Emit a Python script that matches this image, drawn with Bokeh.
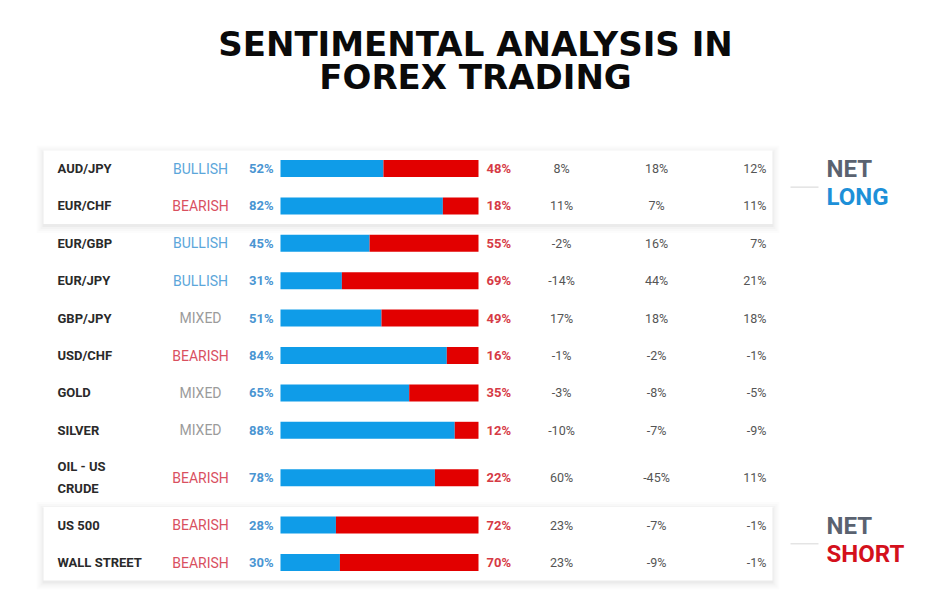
from bokeh.plotting import figure
from bokeh.models import Range1d, ColumnDataSource
from bokeh.core.properties import value
from bokeh.embed import file_html
from bokeh.resources import INLINE

# ---- data ----
names = ["AUD/JPY", "EUR/CHF", "EUR/GBP", "EUR/JPY", "GBP/JPY", "USD/CHF",
         "GOLD", "SILVER", "OIL - US\nCRUDE", "US 500", "WALL STREET"]
sentiment = ["BULLISH", "BEARISH", "BULLISH", "BULLISH", "MIXED", "BEARISH",
             "MIXED", "MIXED", "BEARISH", "BEARISH", "BEARISH"]
long_pct = [52, 82, 45, 31, 51, 84, 65, 88, 78, 28, 30]
short_pct = [48, 18, 55, 69, 49, 16, 35, 12, 22, 72, 70]
change_a = ["8%", "11%", "-2%", "-14%", "17%", "-1%", "-3%", "-10%", "60%", "23%", "23%"]
change_b = ["18%", "7%", "16%", "44%", "18%", "-2%", "-8%", "-7%", "-45%", "-7%", "-9%"]
change_c = ["12%", "11%", "7%", "21%", "18%", "-1%", "-5%", "-9%", "11%", "-1%", "-1%"]
title_lines = ["SENTIMENTAL ANALYSIS IN", "FOREX TRADING"]

# ---- layout ----
W, H = 950, 600
p = figure(width=W, height=H, x_range=Range1d(0, W), y_range=Range1d(H, 0),
           output_backend="svg", toolbar_location=None, min_border=0)
p.axis.visible = False
p.grid.visible = False
p.outline_line_color = None
p.background_fill_color = "white"
p.border_fill_color = "white"

FONT = value("Roboto")

# row centres
ys = []
y = 168.0
for i, n in enumerate(names):
    extra = 10 if "\n" in n else 0
    ys.append(y + extra)
    y += 37.4 + 2 * extra

# boxes (net long: rows 0-1, net short: rows 9-10)
def box(r0, r1):
    top = ys[r0] - 18
    bot = ys[r1] + 18
    for k, a in [(7, 0.01), (5, 0.015), (3, 0.02), (1, 0.03)]:
        p.quad(left=43 - k, right=772 + k, top=top - k + 2, bottom=bot + k + 2,
               fill_color="black", fill_alpha=a, line_color=None)
    p.quad(left=43, right=772, top=top, bottom=bot, fill_color="white", line_color=None)

box(0, 1)
box(9, 10)

# title
for i, t in enumerate(title_lines):
    p.text(x=[475], y=[43 + 33 * i], text=[t], text_font=value("DejaVu Sans"),
           text_font_style="bold", text_font_size="34px", text_align="center",
           text_baseline="middle", text_color="#0a0a0a")

# bars
BX0, BW = 280, 198
bl = [BX0 + v / 100 * BW for v in long_pct]
src = ColumnDataSource(dict(y=ys, l=[BX0] * len(ys), m=bl, r=[BX0 + BW] * len(ys)))
p.hbar(y="y", left="l", right="m", height=17, source=src, fill_color="#0f9ce8", line_color=None)
p.hbar(y="y", left="m", right="r", height=17, source=src, fill_color="#e20000", line_color=None)

# names
for n, yy in zip(names, ys):
    lines = n.split("\n")
    for j, ln in enumerate(lines):
        off = (j - (len(lines) - 1) / 2) * 22
        p.text(x=[57], y=[yy + off], text=[ln], text_font=FONT, text_font_style="bold",
               text_font_size="13px", text_align="left", text_baseline="middle",
               text_color="#2a2a2a")

scol = {"BULLISH": "#5ba6da", "BEARISH": "#d9505f", "MIXED": "#9b9b9b"}
p.text(x=[200] * len(ys), y=ys, text=sentiment, text_font=FONT, text_font_size="14px",
       text_align="center", text_baseline="middle",
       text_color=[scol[s] for s in sentiment])

p.text(x=[273] * len(ys), y=ys, text=[f"{v}%" for v in long_pct], text_font=FONT,
       text_font_style="bold", text_font_size="13px", text_align="right",
       text_baseline="middle", text_color="#4a95d2")
p.text(x=[486] * len(ys), y=ys, text=[f"{v}%" for v in short_pct], text_font=FONT,
       text_font_style="bold", text_font_size="13px", text_align="left",
       text_baseline="middle", text_color="#d63a45")

p.text(x=[561] * len(ys), y=ys, text=change_a, text_font=FONT, text_font_size="12.5px",
       text_align="center", text_baseline="middle", text_color="#555555")
p.text(x=[656] * len(ys), y=ys, text=change_b, text_font=FONT, text_font_size="12.5px",
       text_align="center", text_baseline="middle", text_color="#555555")
p.text(x=[766] * len(ys), y=ys, text=change_c, text_font=FONT, text_font_size="12.5px",
       text_align="right", text_baseline="middle", text_color="#555555")

# side labels
def side(r0, r1, word, color):
    mid = (ys[r0] + ys[r1]) / 2
    p.segment(x0=[790], y0=[mid], x1=[818], y1=[mid], line_color="#dddddd", line_width=1.2)
    p.text(x=[826], y=[mid - 18], text=["NET"], text_font=FONT, text_font_style="bold",
           text_font_size="24px", text_align="left", text_baseline="middle", text_color="#5a6270")
    p.text(x=[826], y=[mid + 10], text=[word], text_font=FONT, text_font_style="bold",
           text_font_size="24px", text_align="left", text_baseline="middle", text_color=color)

side(0, 1, "LONG", "#1d90d8")
side(9, 10, "SHORT", "#d4101c")

open("out.html", "w").write(file_html(p, INLINE))
